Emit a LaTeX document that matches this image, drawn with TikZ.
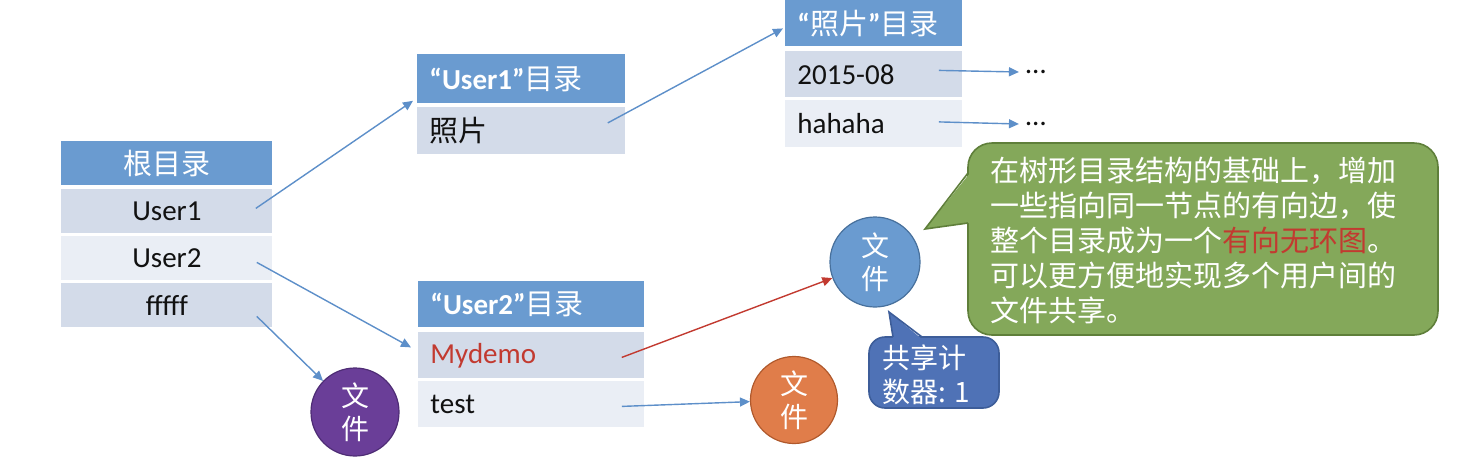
\documentclass[tikz,border=0pt]{standalone}
\usepackage{fontspec}
\setmainfont{Carlito}
\newfontfamily\cjk{Noto Sans CJK SC}
\usetikzlibrary{arrows.meta,calc}
\definecolor{hdr}{HTML}{6A9BD0}
\definecolor{rowA}{HTML}{D3DBE9}
\definecolor{rowB}{HTML}{EAEEF5}
\definecolor{txt}{HTML}{111111}
\definecolor{redT}{HTML}{C23A30}
\definecolor{arrC}{HTML}{5D8FC9}
\definecolor{purp}{HTML}{6A3E98}
\definecolor{purpD}{HTML}{4E2C75}
\definecolor{oran}{HTML}{E07D4A}
\definecolor{oranD}{HTML}{B0592C}
\definecolor{bcir}{HTML}{6A9BD0}
\definecolor{bcirD}{HTML}{47709C}
\definecolor{grn}{HTML}{84A85A}
\definecolor{grnD}{HTML}{5F7F3A}
\definecolor{cb}{HTML}{4F72B6}
\definecolor{cbD}{HTML}{3D5D99}
\tikzset{
  hdrc/.style={anchor=north west, inner sep=0pt, fill=hdr, text=white, font=\fontsize{14.5}{16}\selectfont},
  rowa/.style={anchor=north west, inner sep=0pt, fill=rowA, text=txt, font=\fontsize{14.5}{16}\selectfont},
  rowb/.style={anchor=north west, inner sep=0pt, fill=rowB, text=txt, font=\fontsize{14.5}{16}\selectfont},
  lefttext/.style={align=left, inner xsep=6pt, text width=#1},
  circ/.style={circle, inner sep=0pt, text=white, align=center, line width=0.6pt, font=\cjk\fontsize{14}{16.5}\selectfont},
  arr/.style={draw=arrC, line width=0.7pt, -{Triangle[length=5pt,width=4.5pt]}},
}
\begin{document}
\begin{tikzpicture}[x=0.5pt,y=-0.5pt]
\useasboundingbox (0,0) rectangle (1458,472);
% root table
\node[hdrc, minimum width=105.5pt, minimum height=22pt] (rh) at (61,141) {\cjk 根目录};
\node[rowa, minimum width=105.5pt, minimum height=22pt] (r1) at (61,189) {User1};
\node[rowb, minimum width=105.5pt, minimum height=22pt] (r2) at (61,236) {User2};
\node[rowa, minimum width=105.5pt, minimum height=22pt] (r3) at (61,283) {fffff};
% User1 table
\node[hdrc, lefttext=92pt, minimum height=24.5pt] (u1h) at (417,54) {\bfseries “User1”{\cjk\mdseries 目录}};
\node[rowa, lefttext=92pt, minimum height=23.5pt] (p1) at (417,107) {\cjk 照片};
% photo table
\node[hdrc, lefttext=76.5pt, minimum height=23pt] (ph) at (785,0) {\bfseries “{\cjk\mdseries 照片}”{\cjk\mdseries 目录}};
\node[rowa, lefttext=76.5pt, minimum height=23pt] (d1) at (785,51) {2015-08};
\node[rowb, lefttext=76.5pt, minimum height=23.5pt] (h1) at (785,100) {hahaha};
% User2 table
\node[hdrc, lefttext=101pt, minimum height=23pt] (u2h) at (418,281) {\bfseries “User2”{\cjk\mdseries 目录}};
\node[rowa, lefttext=101pt, minimum height=23pt, text=redT] (m1) at (418,332) {Mydemo};
\node[rowb, lefttext=101pt, minimum height=23pt] (t1) at (418,381) {test};
% ellipses
\node[text=txt, font=\fontsize{14.5}{16}\selectfont] (e1) at (1036,72) {…};
\node[text=txt, font=\fontsize{14.5}{16}\selectfont] (e2) at (1036,124) {…};
% circles
\node[circ, fill=purp, draw=purpD, minimum size=44pt] (pc) at (355,412) {文\\件};
\node[circ, fill=oran, draw=oranD, minimum size=43.5pt] (oc) at (794,400) {文\\件};
\node[circ, fill=bcir, draw=bcirD, minimum size=45pt] (bc) at (875,262) {文\\件};
% green callout
\filldraw[fill=grn, draw=grnD, line width=0.8pt, rounded corners=12pt] (968,143) rectangle (1438,335);
\fill[grn] (925,229) -- (970,223) -- (970,173) -- cycle;
\draw[grnD, line width=0.8pt, line join=miter] (968,223) -- (925,229) -- (968,173);
\node[anchor=west, text=white, align=left, inner sep=0pt, font=\cjk\fontsize{14.5}{17.5}\selectfont] (gt) at (990,240)
  {在树形目录结构的基础上，增加\\一些指向同一节点的有向边，使\\整个目录成为一个\textcolor{redT}{有向无环图}。\\可以更方便地实现多个用户间的\\文件共享。};
% blue small callout
\filldraw[fill=cb, draw=cbD, line width=0.8pt, rounded corners=8pt] (869,337) rectangle (999,408);
\fill[cb] (889,312) -- (893,339) -- (922,339) -- cycle;
\draw[cbD, line width=0.8pt] (893,337) -- (889,312) -- (922,337);
\node[anchor=west, text=white, align=left, inner sep=0pt, font=\cjk\fontsize{14}{17}\selectfont] (ct) at (882,375) {共享计\\数器: 1};
% arrows
\draw[arr] ($(r1.east)+(-17,-3)$) -- ($(u1h.south west)+(-4,-3)$);
\draw[arr] ($(p1.east)+(-18,-8)$) -- ($(ph.west)+(-2,5)$);
\draw[arr] ($(r2.east)+(-16,4)$) -- ($(m1.west)+(-7,-8)$);
\draw[arr] ($(r3.east)+(-16,11)$) -- (pc);
\draw[arr, draw=redT] ($(m1.east)+(-23,2)$) -- (bc);
\draw[arr] ($(t1.east)+(-23,2)$) -- (oc);
\draw[arr] ($(d1.east)+(-24,-4)$) -- (e1.west);
\draw[arr] ($(h1.east)+(-24,-2)$) -- (e2.west);
\end{tikzpicture}
\end{document}
